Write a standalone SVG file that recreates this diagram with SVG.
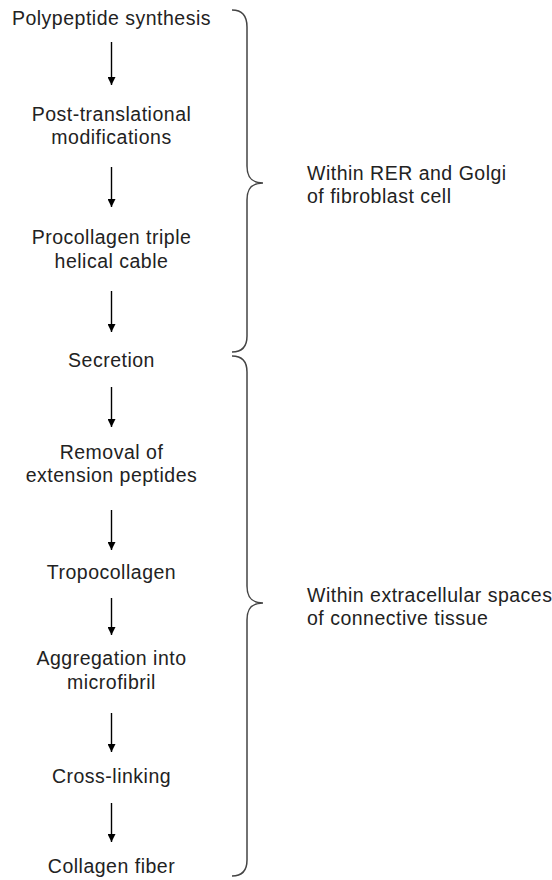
<svg xmlns="http://www.w3.org/2000/svg" width="552" height="880" viewBox="0 0 552 880">
<defs>
<style>
text{font-family:"Liberation Sans",Arial,sans-serif;font-size:19.5px;letter-spacing:0.5px;fill:#222}
.c{text-anchor:middle}
.arr{stroke:#000;stroke-width:1.4;fill:none}
.brace{stroke:#444;stroke-width:1.5;fill:none}
</style>
<marker id="ah" viewBox="0 0 10 10" refX="10" refY="5" markerWidth="10" markerHeight="8" markerUnits="userSpaceOnUse" orient="auto">
<path d="M0,0 L10,5 L0,10 z" fill="#000"/>
</marker>
</defs>
<rect width="552" height="880" fill="#fff"/>
<g id="n1"><text class="c" x="111.5" y="25">Polypeptide synthesis</text></g>
<g id="n2"><text class="c" x="111.5" y="121">Post-translational</text><text class="c" x="111.5" y="144">modifications</text></g>
<g id="n3"><text class="c" x="111.5" y="244">Procollagen triple</text><text class="c" x="111.5" y="268">helical cable</text></g>
<g id="n4"><text class="c" x="111.5" y="367">Secretion</text></g>
<g id="n5"><text class="c" x="111.5" y="459">Removal of</text><text class="c" x="111.5" y="482">extension peptides</text></g>
<g id="n6"><text class="c" x="111.5" y="579">Tropocollagen</text></g>
<g id="n7"><text class="c" x="111.5" y="665">Aggregation into</text><text class="c" x="111.5" y="689">microfibril</text></g>
<g id="n8"><text class="c" x="111.5" y="783">Cross-linking</text></g>
<g id="n9"><text class="c" x="111.5" y="873">Collagen fiber</text></g>
<g id="connectors">
<line class="arr" x1="111.5" y1="42" x2="111.5" y2="85" marker-end="url(#ah)"/>
<line class="arr" x1="111.5" y1="167" x2="111.5" y2="207" marker-end="url(#ah)"/>
<line class="arr" x1="111.5" y1="291" x2="111.5" y2="332" marker-end="url(#ah)"/>
<line class="arr" x1="111.5" y1="387" x2="111.5" y2="427" marker-end="url(#ah)"/>
<line class="arr" x1="111.5" y1="510" x2="111.5" y2="550" marker-end="url(#ah)"/>
<line class="arr" x1="111.5" y1="598" x2="111.5" y2="635" marker-end="url(#ah)"/>
<line class="arr" x1="111.5" y1="713" x2="111.5" y2="752" marker-end="url(#ah)"/>
<line class="arr" x1="111.5" y1="803" x2="111.5" y2="842" marker-end="url(#ah)"/>
</g>
<g id="brace1">
<path class="brace" d="M232,10 Q247,10 247,27 L247,166 C247,178 252,183 263,183 C252,183 247,188 247,200 L247,336 Q247,352 232,352"/>
<text x="307" y="180">Within RER and Golgi</text>
<text x="307" y="203">of fibroblast cell</text>
</g>
<g id="brace2">
<path class="brace" d="M232,356 Q247,356 247,372 L247,586 C247,598 252,603 263,603 C252,603 247,608 247,620 L247,860 Q247,876 232,876"/>
<text x="307" y="602">Within extracellular spaces</text>
<text x="307" y="625">of connective tissue</text>
</g>
</svg>
